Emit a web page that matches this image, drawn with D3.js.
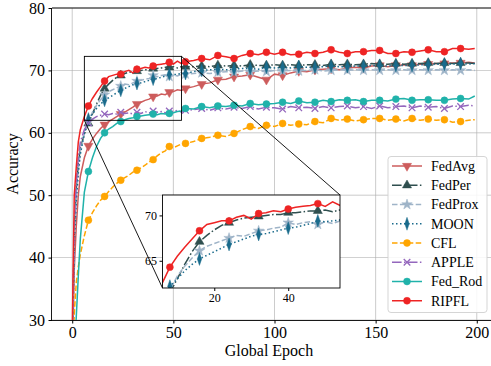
<!DOCTYPE html>
<html>
<head>
<meta charset="utf-8">
<script src="https://cdn.jsdelivr.net/npm/d3@7"></script>
<style>
  body { margin: 0; background: #fff; }
  text { font-family: "Times New Roman", "Liberation Serif", Times, serif; fill: #000; }
</style>
</head>
<body>
<svg id="chart" width="491" height="366"></svg>
<script>
const epochs = [0, 1, 2, 3, 4, 6, 8, 10, 12, 14, 16, 18, 20, 22, 24, 26, 28, 30, 32, 34, 36, 38, 40, 42, 44, 46, 48, 50, 52, 54, 56,
  60, 64, 68, 72, 76, 80, 84, 88, 92, 96, 100, 104, 108, 112, 116, 120, 124, 128, 132, 136, 140, 144, 148, 152, 156, 160,
  164, 168, 172, 176, 180, 184, 188, 192, 196, 199];

const fedAvg = [22, 38, 45, 50, 53, 56, 57.9, 59.0, 59.9, 60.7, 61.3, 61.8, 62.2, 62.6, 63.0, 63.3, 63.7, 64.1, 64.6, 64.9, 65.2, 65.4, 65.8, 65.9, 66.2, 66.1, 66.5, 66.6, 66.9, 66.8, 67.1,
  67.4, 67.8, 68.0, 68.5, 68.6, 69.0, 69.1, 69.3, 68.9, 68.5, 69.4, 69.2, 69.6, 69.9, 69.8, 70.1, 70.2, 70.3, 70.1, 70.4, 70.5, 70.4, 70.7, 70.8, 70.6, 70.8,
  70.9, 70.8, 71.0, 71.0, 71.1, 71.1, 71.2, 71.2, 71.3, 71.2];
const fedPer = [25, 44, 51, 55, 57.5, 59.8, 61.5, 63.0, 64.6, 66.0, 67.1, 67.8, 68.4, 68.9, 69.2, 69.5, 69.7, 69.8, 69.9, 70.0, 70.1, 70.1, 70.3, 70.3, 70.4, 70.5, 70.5, 70.6, 70.4, 70.6, 70.6,
  70.6, 70.7, 70.6, 70.8, 70.7, 70.8, 70.7, 70.9, 70.8, 70.8, 70.9, 70.8, 70.9, 70.8, 70.9, 70.9, 70.8, 71.0, 70.9, 71.0, 70.9, 71.0, 71.1, 71.0, 71.0, 71.1,
  71.0, 71.1, 71.1, 71.2, 71.1, 71.2, 71.1, 71.2, 71.2, 71.1];
const fedProx = [25, 43, 50, 54, 57, 59.8, 61.8, 63.3, 64.4, 65.3, 66.1, 66.6, 66.9, 67.2, 67.5, 67.8, 67.7, 68.0, 68.3, 68.4, 68.6, 68.7, 69.2, 69.0, 69.2, 69.3, 69.0, 69.3, 69.1, 69.4, 69.4,
  69.5, 69.6, 69.5, 69.7, 69.8, 69.7, 69.9, 69.8, 69.9, 69.8, 70.0, 69.9, 70.0, 69.9, 70.0, 70.1, 69.9, 70.0, 70.1, 70.0, 70.1, 70.0, 70.1, 70.0, 70.1, 70.0,
  70.1, 70.0, 70.1, 70.0, 70.1, 70.0, 70.1, 70.0, 70.1, 70.0];
const moon = [24, 42, 49, 53.5, 56.5, 60.0, 62.2, 63.0, 63.9, 64.6, 65.2, 65.6, 66.0, 66.4, 66.8, 67.1, 67.4, 67.7, 67.9, 68.0, 68.2, 68.4, 68.6, 68.7, 68.9, 69.1, 69.4, 69.3, 69.4, 69.5, 69.5,
  69.8, 70.0, 70.1, 70.2, 70.1, 70.2, 70.3, 70.3, 70.2, 70.5, 70.4, 70.5, 70.4, 70.6, 70.5, 70.5, 70.6, 70.7, 70.6, 70.6, 70.7, 70.7, 70.8, 70.8, 70.7, 70.8,
  70.8, 70.8, 70.9, 70.9, 71.0, 71.0, 71.0, 71.1, 71.0, 71.1];
const cfl = [22, 31, 36, 38.5, 40.5, 43.5, 46.0, 47.2, 48.3, 49.2, 49.8, 50.6, 51.3, 51.9, 52.4, 52.8, 53.2, 53.7, 54.0, 54.4, 54.8, 55.3, 55.7, 56.3, 56.8, 57.1, 57.8, 57.6, 57.9, 58.2, 58.3,
  58.6, 59.1, 59.3, 59.6, 59.4, 59.9, 60.5, 61.0, 60.7, 61.2, 61.0, 61.5, 61.2, 61.4, 61.3, 61.8, 61.6, 62.3, 62.0, 62.2, 61.9, 62.1, 62.3, 62.3, 62.0, 62.2,
  61.9, 62.3, 62.0, 62.2, 62.0, 62.1, 61.7, 61.8, 62.0, 62.1];
const apple = [24, 45, 52, 56, 58.5, 60.5, 61.6, 62.2, 62.6, 62.8, 63.0, 62.9, 63.1, 63.0, 63.3, 63.1, 63.2, 63.0, 63.3, 63.1, 63.4, 63.2, 63.5, 63.3, 63.4, 63.2, 63.5, 63.4, 63.6, 63.3, 63.6,
  63.7, 63.9, 63.6, 64.0, 63.8, 64.1, 63.9, 64.2, 63.8, 64.1, 64.0, 63.8, 64.2, 64.0, 64.1, 63.9, 64.2, 64.0, 64.2, 64.3, 64.0, 64.2, 63.9, 64.3, 64.0, 64.2,
  64.3, 64.0, 64.3, 64.1, 64.2, 63.9, 64.3, 64.2, 64.4, 64.3];
const fedRod = [20, 25, 30.5, 37, 43, 50.5, 53.8, 56.0, 57.8, 59.1, 60.0, 60.6, 61.0, 61.5, 61.8, 62.1, 62.3, 62.4, 62.6, 62.7, 62.8, 62.9, 63.0, 62.9, 63.1, 63.0, 63.1, 63.2, 63.4, 63.5, 63.9,
  63.8, 64.2, 64.0, 64.3, 64.2, 64.4, 64.3, 64.7, 64.5, 64.6, 64.7, 64.9, 64.7, 65.1, 64.8, 64.9, 65.2, 65.0, 65.3, 65.2, 65.3, 65.0, 65.2, 65.2, 65.1, 65.4,
  65.5, 65.2, 65.3, 65.3, 65.2, 65.2, 65.4, 65.5, 65.4, 65.9];
const ripfl = [28, 50, 54.5, 58.5, 60.5, 62.6, 64.3, 65.5, 66.5, 67.4, 68.3, 69.0, 69.2, 69.4, 69.4, 69.8, 70.0, 69.6, 70.2, 70.3, 70.5, 70.4, 70.7, 70.9, 71.0, 71.1, 71.3, 71.0, 71.5, 71.1, 71.4,
  71.6, 71.9, 71.7, 72.4, 72.2, 71.9, 72.4, 72.7, 72.5, 72.9, 72.6, 72.9, 72.5, 72.6, 72.9, 72.7, 72.9, 73.3, 72.9, 72.7, 73.0, 73.0, 73.2, 73.2, 72.7, 72.7,
  73.0, 72.9, 73.1, 73.3, 73.0, 73.0, 73.5, 73.5, 73.4, 73.5];

const xTicks = [0, 50, 100, 150, 200];
const yTicks = [30, 40, 50, 60, 70, 80];
const insetXTicks = [20, 40];
const insetYTicks = [65, 70];
const insetNames = ['FedPer', 'FedProx', 'MOON', 'RIPFL'];

const series = [
  { name: 'FedAvg', values: fedAvg, color: '#cd5c5c', dash: null, marker: 'down' },
  { name: 'FedPer', values: fedPer, color: '#2f4f4f', dash: '9.6,2.4,1.5,2.4', marker: 'up' },
  { name: 'FedProx', values: fedProx, color: '#9fb4c8', dash: '5.5,2.4', marker: 'star' },
  { name: 'MOON', values: moon, color: '#1a6b8c', dash: '1.5,2.5', marker: 'diamond' },
  { name: 'CFL', values: cfl, color: '#ffa500', dash: '5.5,2.4', marker: 'circle' },
  { name: 'APPLE', values: apple, color: '#9467bd', dash: '9.6,2.4,1.5,2.4', marker: 'x' },
  { name: 'Fed_Rod', values: fedRod, color: '#20b2aa', dash: null, marker: 'circle' },
  { name: 'RIPFL', values: ripfl, color: '#ee2424', dash: null, marker: 'circle' }
];

const FONT = '"Times New Roman", "Liberation Serif", Times, serif';
const svg = d3.select('#chart');
const m = { left: 52, top: 8, right: 497, bottom: 320 };

const x = d3.scaleLinear().domain([-10, 210]).range([m.left, m.right]);
const y = d3.scaleLinear().domain([30, 80]).range([m.bottom, m.top]);

const defs = svg.append('defs');
defs.append('clipPath').attr('id', 'mainClip')
  .append('rect').attr('x', m.left).attr('y', m.top)
  .attr('width', m.right - m.left).attr('height', m.bottom - m.top);

// grid
const grid = svg.append('g');
grid.selectAll('.gx').data(xTicks).enter().append('line')
  .attr('x1', d => x(d)).attr('x2', d => x(d))
  .attr('y1', m.top).attr('y2', m.bottom)
  .attr('stroke', '#b0b0b0').attr('stroke-width', 0.8).attr('opacity', 0.8);
grid.selectAll('.gy').data(yTicks).enter().append('line')
  .attr('x1', m.left).attr('x2', m.right)
  .attr('y1', d => y(d)).attr('y2', d => y(d))
  .attr('stroke', '#b0b0b0').attr('stroke-width', 0.8).attr('opacity', 0.8);

function markerPath(type) {
  const s = d3.symbol();
  if (type === 'circle') return s.type(d3.symbolCircle).size(38)();
  if (type === 'up' || type === 'down') return s.type(d3.symbolTriangle).size(36)();
  if (type === 'star') return s.type(d3.symbolStar).size(34)();
  if (type === 'diamond') return s.type(d3.symbolDiamond).size(40)();
  if (type === 'x') return s.type(d3.symbolTimes).size(30)();
}

function markerTransform(type, px, py) {
  if (type === 'down') return `translate(${px},${py}) rotate(180)`;
  if (type === 'diamond') return `translate(${px},${py}) scale(0.65,1.1)`;
  return `translate(${px},${py})`;
}

function drawSeries(g, sx, sy, list) {
  list.forEach(s => {
    const pts = epochs.map((e, i) => [e, s.values[i]]);
    const line = d3.line().x(d => sx(d[0])).y(d => sy(d[1]));
    g.append('path').datum(pts)
      .attr('d', line)
      .attr('fill', 'none')
      .attr('stroke', s.color)
      .attr('stroke-width', 1.5)
      .attr('stroke-dasharray', s.dash);
    const marks = pts.filter(d => d[0] > 0 && d[0] % 8 === 0);
    g.selectAll(null).data(marks).enter().append('path')
      .attr('d', markerPath(s.marker))
      .attr('transform', d => markerTransform(s.marker, sx(d[0]), sy(d[1])))
      .attr('fill', s.marker === 'x' ? 'none' : s.color)
      .attr('stroke', s.color)
      .attr('stroke-width', s.marker === 'x' ? 1.3 : 0.5);
  });
}

const plot = svg.append('g').attr('clip-path', 'url(#mainClip)');
drawSeries(plot, x, y, series);

// axes frame
svg.append('line').attr('x1', m.left).attr('x2', m.right).attr('y1', m.top).attr('y2', m.top)
  .attr('stroke', '#000').attr('stroke-width', 0.9);

const xAxis = svg.append('g')
  .attr('transform', `translate(0,${m.bottom})`)
  .call(d3.axisBottom(x).tickValues(xTicks).tickSize(3.5).tickPadding(3.5));
xAxis.select('.domain').attr('d', `M${m.left},0.5H${m.right}`).attr('stroke-width', 0.9);
xAxis.selectAll('text').style('font-family', FONT).style('font-size', '16px');

const yAxis = svg.append('g')
  .attr('transform', `translate(${m.left},0)`)
  .call(d3.axisLeft(y).tickValues(yTicks).tickSize(3.5).tickPadding(3.5));
yAxis.select('.domain').attr('d', `M-0.5,${m.top}V${m.bottom}`).attr('stroke-width', 0.9);
yAxis.selectAll('text').style('font-family', FONT).style('font-size', '16px');

svg.append('text').attr('x', 269).attr('y', 356).attr('text-anchor', 'middle')
  .style('font-family', FONT).style('font-size', '16px').text('Global Epoch');
svg.append('text').attr('transform', 'translate(18,164) rotate(-90)').attr('text-anchor', 'middle')
  .style('font-family', FONT).style('font-size', '16px').text('Accuracy');

// zoom inset
const inset = { left: 162.5, top: 195, right: 340, bottom: 288 };
const ix = d3.scaleLinear().domain([6, 54]).range([inset.left, inset.right]);
const iy = d3.scaleLinear().domain([62, 72.25]).range([inset.bottom, inset.top]);

const zx0 = x(6), zx1 = x(54), zy0 = y(72.25), zy1 = y(62);
svg.append('rect').attr('x', zx0).attr('y', zy0).attr('width', zx1 - zx0).attr('height', zy1 - zy0)
  .attr('fill', 'none').attr('stroke', '#000').attr('stroke-width', 0.9);
svg.append('line').attr('x1', zx1).attr('y1', zy0).attr('x2', inset.right).attr('y2', inset.top)
  .attr('stroke', '#000').attr('stroke-width', 0.9);
svg.append('line').attr('x1', zx0).attr('y1', zy1).attr('x2', inset.left).attr('y2', inset.bottom)
  .attr('stroke', '#000').attr('stroke-width', 0.9);

defs.append('clipPath').attr('id', 'insetClip')
  .append('rect').attr('x', inset.left).attr('y', inset.top)
  .attr('width', inset.right - inset.left).attr('height', inset.bottom - inset.top);

svg.append('rect').attr('x', inset.left).attr('y', inset.top)
  .attr('width', inset.right - inset.left).attr('height', inset.bottom - inset.top)
  .attr('fill', '#fff');
const iplot = svg.append('g').attr('clip-path', 'url(#insetClip)');
drawSeries(iplot, ix, iy, series.filter(s => insetNames.includes(s.name)));
svg.append('rect').attr('x', inset.left).attr('y', inset.top)
  .attr('width', inset.right - inset.left).attr('height', inset.bottom - inset.top)
  .attr('fill', 'none').attr('stroke', '#000').attr('stroke-width', 0.9);

const ixAxis = svg.append('g').attr('transform', `translate(0,${inset.bottom})`)
  .call(d3.axisBottom(ix).tickValues(insetXTicks).tickSize(3).tickPadding(2.5));
ixAxis.select('.domain').remove();
ixAxis.selectAll('text').style('font-family', FONT).style('font-size', '12px');
const iyAxis = svg.append('g').attr('transform', `translate(${inset.left},0)`)
  .call(d3.axisLeft(iy).tickValues(insetYTicks).tickSize(3).tickPadding(2.5));
iyAxis.select('.domain').remove();
iyAxis.selectAll('text').style('font-family', FONT).style('font-size', '12px');

// legend
const lg = svg.append('g');
lg.append('rect').attr('x', 388).attr('y', 156.5).attr('width', 99).attr('height', 156)
  .attr('rx', 3).attr('fill', '#fff').attr('fill-opacity', 0.85)
  .attr('stroke', '#d0d0d0').attr('stroke-width', 0.9);
series.forEach((s, i) => {
  const cy = 166 + i * 19.25;
  lg.append('line').attr('x1', 392).attr('x2', 422).attr('y1', cy).attr('y2', cy)
    .attr('stroke', s.color).attr('stroke-width', 1.5).attr('stroke-dasharray', s.dash);
  lg.append('path').attr('d', markerPath(s.marker))
    .attr('transform', markerTransform(s.marker, 407, cy))
    .attr('fill', s.marker === 'x' ? 'none' : s.color)
    .attr('stroke', s.color).attr('stroke-width', s.marker === 'x' ? 1.3 : 0.5);
  lg.append('text').attr('x', 431).attr('y', cy + 4.8)
    .style('font-family', FONT).style('font-size', '14px').text(s.name);
});
</script>
</body>
</html>
